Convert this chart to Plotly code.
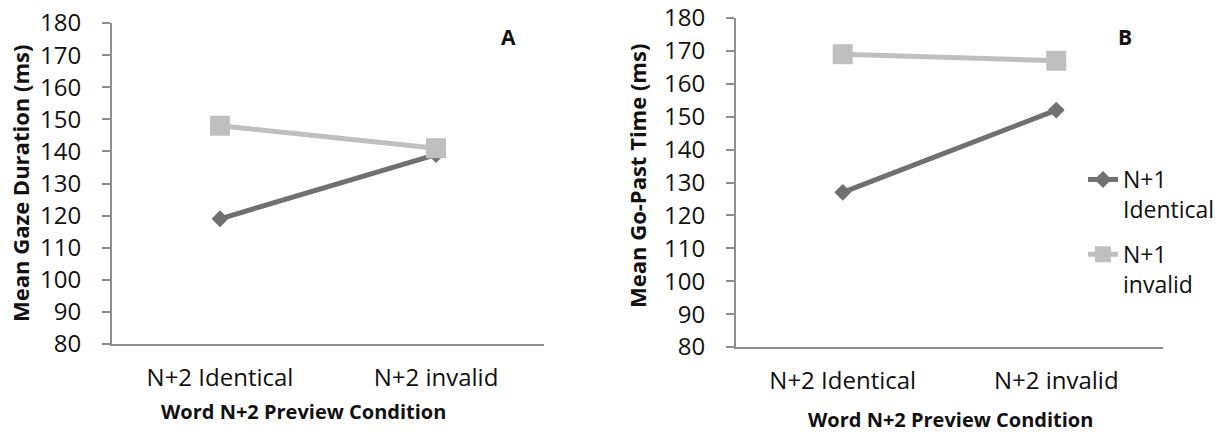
import plotly.graph_objects as go

# Preview conditions on the x axis
conditions = ["N+2 Identical", "N+2 invalid"]

# Panel A: mean gaze duration (ms)
gaze_n1_identical = [119, 139]
gaze_n1_invalid = [148, 141]

# Panel B: mean go-past time (ms)
gopast_n1_identical = [127, 152]
gopast_n1_invalid = [169, 167]

series_names = ["N+1<br>Identical", "N+1<br>invalid"]
y_ticks = list(range(80, 181, 10))

DARK = "#707070"
LIGHT = "#bfbfbf"
AXIS = "#8e8e8e"
FONT = "Open Sans"
W, H = 1228, 434


def px_x(x):
    return x / W


def px_y(y):
    return 1 - y / H


fig = go.Figure()

panels = [
    ("x", "y", gaze_n1_identical, gaze_n1_invalid, False),
    ("x2", "y2", gopast_n1_identical, gopast_n1_invalid, True),
]
for xa, ya, ident, inval, show in panels:
    fig.add_trace(go.Scatter(
        x=conditions, y=ident, xaxis=xa, yaxis=ya,
        name=series_names[0], legendgroup="ident", showlegend=show,
        mode="lines+markers",
        line=dict(color=DARK, width=5),
        marker=dict(symbol="diamond", size=13, color=DARK),
    ))
    fig.add_trace(go.Scatter(
        x=conditions, y=inval, xaxis=xa, yaxis=ya,
        name=series_names[1], legendgroup="inval", showlegend=show,
        mode="lines+markers",
        line=dict(color=LIGHT, width=5),
        marker=dict(symbol="square", size=20, color=LIGHT),
    ))

xaxis_common = dict(
    type="category", range=[-0.5, 1.5], showline=True, linecolor=AXIS,
    linewidth=2, ticks="", showgrid=False, zeroline=False, automargin=False,
    tickfont=dict(family=FONT, size=24, color="#111"),
    ticklabelstandoff=11, fixedrange=True,
)
yaxis_common = dict(
    range=[80, 180], tickvals=y_ticks, showline=True, linecolor=AXIS,
    linewidth=2, ticks="outside", ticklen=8, tickwidth=2, tickcolor=AXIS,
    showgrid=False, zeroline=False, automargin=False,
    tickfont=dict(family=FONT, size=24, color="#111"),
    ticklabelstandoff=16, fixedrange=True,
)

fig.update_layout(
    template="none",
    width=W, height=H,
    margin=dict(l=0, r=0, t=0, b=0, autoexpand=False),
    paper_bgcolor="white", plot_bgcolor="white",
    xaxis=dict(domain=[px_x(112), px_x(544)], anchor="y", **xaxis_common),
    yaxis=dict(domain=[px_y(344), px_y(23)], anchor="x", **yaxis_common),
    xaxis2=dict(domain=[px_x(736), px_x(1163)], anchor="y2", **xaxis_common),
    yaxis2=dict(domain=[px_y(347), px_y(18)], anchor="x2", **yaxis_common),
    legend=dict(
        x=px_x(1083), y=px_y(158), xanchor="left", yanchor="top",
        font=dict(family=FONT, size=23, color="#111"),
        valign="top", tracegroupgap=12, bgcolor="rgba(0,0,0,0)",
    ),
    showlegend=True,
)

ytitle_font = dict(family=FONT, size=22, color="#111", weight="bold")
xtitle_font = dict(family=FONT, size=20, color="#111", weight="bold")
annotations = [
    dict(text="Mean Gaze Duration (ms)", x=px_x(20), y=px_y(184), textangle=-90,
         font=ytitle_font),
    dict(text="Mean Go-Past Time (ms)", x=px_x(637), y=px_y(176), textangle=-90,
         font=ytitle_font),
    dict(text="Word N+2 Preview Condition", x=px_x(303), y=px_y(411),
         font=xtitle_font),
    dict(text="Word N+2 Preview Condition", x=px_x(950), y=px_y(419),
         font=xtitle_font),
]
for a in annotations:
    fig.add_annotation(xref="paper", yref="paper", showarrow=False,
                       xanchor="center", yanchor="middle", **a)

panel_font = dict(family=FONT, size=21, color="#111", weight="bold")
for label, px, py in [("A", 508, 37), ("B", 1125, 37)]:
    fig.add_annotation(text=label, x=px_x(px), y=px_y(py), xref="paper",
                       yref="paper", xanchor="center", yanchor="middle",
                       showarrow=False, font=panel_font)

fig.write_html("out.html")
